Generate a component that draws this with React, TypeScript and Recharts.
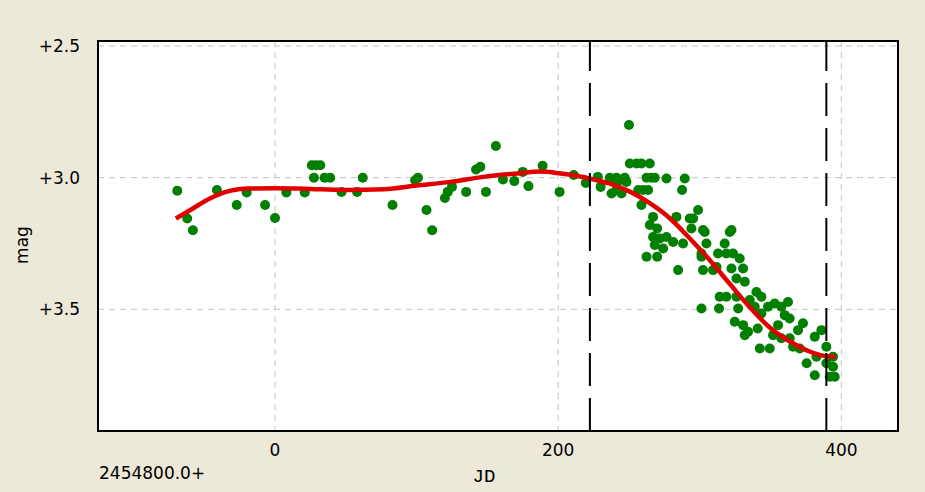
import {
  ComposedChart,
  Scatter,
  Line,
  XAxis,
  YAxis,
  CartesianGrid,
  ReferenceLine,
  ReferenceArea,
} from "recharts";

// observations: JD offset from 2454800.0 and magnitude
const obsJd = [
  -69, -62, -58, -41, -27, -20, -7, 0, 8, 21, 26, 29, 32, 27.5, 35, 39, 47, 58,
  62, 83, 99, 101, 107, 111, 120, 122, 125, 135, 142, 145, 149, 156, 161, 169,
  175, 179, 189, 201, 211, 219.5, 228, 230,
  236.5, 238.8, 241.2, 243.5, 247, 248.2, 237.7, 241.2, 244.7, 250, 250.6,
  255.3, 258.8, 264.7, 256.5, 260, 263.5, 258.8, 262.4, 265.9, 268.2, 276.5,
  289.4, 287.5, 267, 264.7, 269.9, 267, 271.8, 268.2, 262.4, 269.9, 274.1,
  276.5, 281.2, 283.5, 284.7, 288.2, 294.1, 292.9, 298.8, 302.3, 301.2, 304.7,
  311.8, 312.9, 322.4,
  295.3, 303.5, 321.2, 301.2, 302.3, 309.4, 317.6, 318.8, 323.5, 328.2, 330.6,
  322.4, 325.9, 331.8, 314.1, 318.8, 325.9, 301.2, 313.6, 327.1, 335.3, 340,
  343.5, 338.8, 343.5, 348.2, 352.9, 357.6, 362.3, 324.7, 330.6, 334.1, 340.9,
  331.8, 342.4, 349.4, 351.8, 355.3, 360, 363.5, 357.6, 363.5, 369.4, 372.9,
  365.9, 370.6, 375.5, 381.2, 385.9, 382.4, 381.2, 389.4, 389.4, 394.1, 394.1,
  395.3, 391.8,
];
const obsMag = [
  3.05, 3.155, 3.2, 3.047, 3.104, 3.056, 3.104, 3.153, 3.056, 3.056, 2.953,
  2.953, 2.953, 3.0, 3.0, 3.0, 3.054, 3.054, 3.0, 3.104, 3.01, 3.0, 3.123, 3.2,
  3.077, 3.054, 3.035, 3.054, 2.969, 2.959, 3.054, 2.88, 3.007, 3.013, 2.978,
  3.032, 2.955, 3.054, 2.99, 3.02, 2.997, 3.035,
  3.0, 3.01, 3.0, 3.01, 3.0, 3.016, 3.06, 3.047, 3.06, 2.8, 2.946, 2.946,
  2.946, 2.946, 3.047, 3.047, 3.047, 3.104, 3.0, 3.0, 3.0, 3.003, 3.003, 3.047,
  3.149, 3.18, 3.193, 3.225, 3.231, 3.256, 3.3, 3.3, 3.269, 3.225, 3.244,
  3.149, 3.351, 3.25, 3.193, 3.155, 3.123, 3.199, 3.3, 3.25, 3.339, 3.288,
  3.199,
  3.155, 3.206, 3.206, 3.288, 3.351, 3.351, 3.25, 3.288, 3.288, 3.307, 3.345,
  3.345, 3.383, 3.395, 3.452, 3.452, 3.452, 3.497, 3.497, 3.497, 3.465, 3.434,
  3.452, 3.49, 3.516, 3.49, 3.478, 3.49, 3.472, 3.547, 3.56, 3.585, 3.573,
  3.598, 3.649, 3.649, 3.598, 3.56, 3.522, 3.535, 3.61, 3.61, 3.579, 3.553,
  3.642, 3.649, 3.705, 3.604, 3.579, 3.68, 3.75, 3.642, 3.705, 3.68, 3.718,
  3.756, 3.756,
];

// fitted curve
const fitJd = [
  -70, -58, -46, -32, -20, 0, 20, 50, 77, 100, 124, 147, 171, 187, 199, 210,
  222, 236, 251, 265, 279, 293, 307, 321, 335, 349, 364, 378, 389, 396,
];
const fitMag = [
  3.155, 3.117, 3.079, 3.05, 3.041, 3.04, 3.042, 3.047, 3.044, 3.03, 3.016,
  2.997, 2.984, 2.977, 2.982, 2.99, 3.003, 3.022, 3.054, 3.098, 3.155, 3.231,
  3.313, 3.402, 3.49, 3.567, 3.623, 3.661, 3.678, 3.68,
];

const xTicks = [0, 200, 400];
const yTicks = [2.5, 3.0, 3.5];
const markers = [222.4, 389.4];
const xDomain = [-125, 440];
const yDomain = [2.481, 3.962];

const obs = obsJd.map((x, i) => ({ x, mag: obsMag[i] }));
const fit = fitJd.map((x, i) => ({ x, mag: fitMag[i] }));

const font = "'DejaVu Sans', sans-serif";

const Dot = (props: any) => (
  <circle cx={props.cx} cy={props.cy} r={5} fill="#007f00" />
);

export default function App() {
  return (
    <div
      style={{
        position: "absolute",
        top: 0,
        left: 0,
        width: 925,
        height: 492,
        background: "#ECE9D8",
        fontFamily: font,
      }}
    >
      <ComposedChart
        width={925}
        height={492}
        margin={{ top: 41, right: 27, bottom: 31, left: 0 }}
      >
        <CartesianGrid
          fill="#fff"
          stroke="#c4c4c4"
          strokeDasharray="6 5"
        />
        <XAxis
          dataKey="x"
          type="number"
          domain={xDomain}
          ticks={xTicks}
          allowDataOverflow
          height={30}
          axisLine={false}
          tickLine={false}
          tickSize={0}
          tickMargin={13}
          tick={{ fill: "#000", fontSize: 17, fontFamily: font }}
        />
        <YAxis
          dataKey="mag"
          type="number"
          domain={yDomain}
          ticks={yTicks}
          reversed
          allowDataOverflow
          width={98}
          axisLine={false}
          tickLine={false}
          tickSize={0}
          tickMargin={18}
          tickFormatter={(v: number) => "+" + v.toFixed(1)}
          tick={{ fill: "#000", fontSize: 17, fontFamily: font }}
        />
        <Scatter
          data={obs}
          dataKey="mag"
          shape={Dot}
          isAnimationActive={false}
        />
        <Line
          data={fit}
          dataKey="mag"
          type="monotone"
          stroke="#e00000"
          strokeWidth={4.5}
          dot={false}
          activeDot={false}
          isAnimationActive={false}
          zIndex={700}
        />
        {markers.map((m) => (
          <ReferenceLine
            key={m}
            x={m}
            stroke="#000"
            strokeWidth={2}
            strokeDasharray="33 12"
            zIndex={800}
          />
        ))}
        <ReferenceArea
          x1={xDomain[0]}
          x2={xDomain[1]}
          y1={yDomain[0]}
          y2={yDomain[1]}
          fill="none"
          stroke="#000"
          strokeWidth={2}
          zIndex={900}
        />
      </ComposedChart>
      <div
        style={{
          position: "absolute",
          left: 15,
          top: 227,
          width: 13,
          height: 36,
          display: "flex",
          alignItems: "center",
          justifyContent: "center",
        }}
      >
        <span
          style={{
            transform: "rotate(-90deg)",
            fontSize: 17,
            whiteSpace: "nowrap",
          }}
        >
          mag
        </span>
      </div>
      <div
        style={{
          position: "absolute",
          left: 99,
          top: 463,
          fontSize: 17,
          lineHeight: "20px",
        }}
      >
        2454800.0+
      </div>
      <div
        style={{
          position: "absolute",
          left: 470,
          top: 466,
          width: 28,
          textAlign: "center",
          fontSize: 19,
          lineHeight: "22px",
          fontFamily: "'Liberation Mono', monospace",
        }}
      >
        JD
      </div>
    </div>
  );
}
